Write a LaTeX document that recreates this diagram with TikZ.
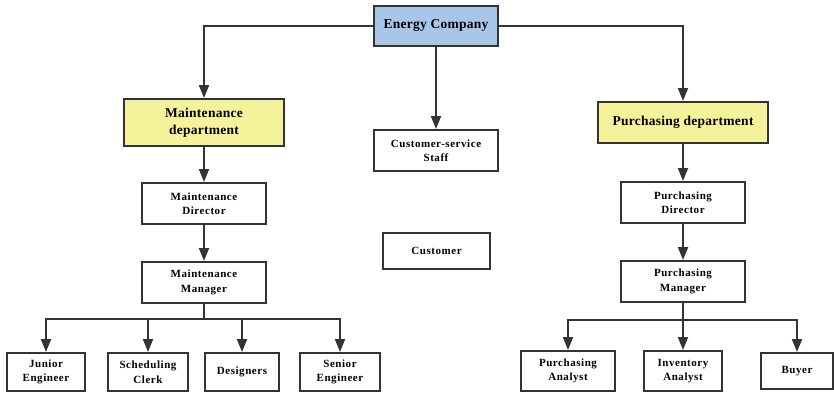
\documentclass[tikz,border=0pt]{standalone}
\usepackage{fontspec}
\setmainfont{Liberation Serif}
\newfontfamily\headfont[LetterSpace=2]{Liberation Serif}
\newfontfamily\staffont[LetterSpace=5]{Liberation Serif}
\usetikzlibrary{arrows.meta}

\definecolor{boxline}{HTML}{333333}
\definecolor{topblue}{HTML}{A9C6E8}
\definecolor{deptyellow}{HTML}{F5F29C}

\tikzset{
  unit/.style={rectangle, draw=boxline, line width=2pt, align=center,
               inner sep=2pt, fill=white,
               font=\staffont\bfseries\fontsize{11}{14.5}\selectfont},
  head/.style={unit, font=\headfont\bfseries\fontsize{13.5}{16.5}\selectfont},
  link/.style={draw=boxline, line width=2pt,
               -{Triangle[length=13pt,width=10pt]}}
}

\begin{document}
\begin{tikzpicture}[x=1pt, y=-1pt]
    \useasboundingbox (0,0) rectangle (834,392);

    % Top of the company

    \node (energy) [head, fill=topblue, minimum width=124pt,
                    minimum height=40pt]
          at (436,26) {Energy Company};
    \node (custstaff) [unit, minimum width=124pt, minimum height=41pt]
          at (436,150.5) {Customer-service\\Staff};
    \node (customer) [unit, minimum width=107pt, minimum height=36pt]
          at (436.5,251) {Customer};
    \draw[link] (energy) -- (custstaff);

    % Maintenance department

    \node (maintdept) [head, fill=deptyellow, minimum width=160pt,
                       minimum height=47pt]
          at (204,122.5) {Maintenance\\department};
    \node (maintdir) [unit, minimum width=124pt, minimum height=41pt]
          at (204,203.5) {Maintenance\\Director};
    \node (maintmgr) [unit, minimum width=124pt, minimum height=41pt]
          at (204,282.5) {Maintenance\\Manager};
    \coordinate (mbranch) at (204,319);

    \node (junior) [unit, minimum width=78pt, minimum height=38pt]
          at (46,372) {Junior\\Engineer};
    \node (clerk) [unit, minimum width=80pt, minimum height=38pt]
          at (148,372) {Scheduling\\Clerk};
    \node (designers) [unit, minimum width=74pt, minimum height=38pt]
          at (242,372) {Designers};
    \node (senior) [unit, minimum width=80pt, minimum height=38pt]
          at (340,372) {Senior\\Engineer};

    \draw[link] (energy.west) -| (maintdept.north);
    \draw[link] (maintdept) -- (maintdir);
    \draw[link] (maintdir) -- (maintmgr);
    \foreach \child in {junior, clerk, designers, senior}
        \draw[link] (maintmgr.south) -- (mbranch) -| (\child.north);

    % Purchasing department

    \node (purchdept) [head, fill=deptyellow, minimum width=170pt,
                       minimum height=41pt]
          at (683,122.5) {Purchasing department};
    \node (purchdir) [unit, minimum width=124pt, minimum height=41pt]
          at (683,202.5) {Purchasing\\Director};
    \node (purchmgr) [unit, minimum width=124pt, minimum height=41pt]
          at (683,281.5) {Purchasing\\Manager};
    \coordinate (pbranch) at (683,320);

    \node (panalyst) [unit, minimum width=94pt, minimum height=40pt]
          at (568,371) {Purchasing\\Analyst};
    \node (ianalyst) [unit, minimum width=78pt, minimum height=40pt]
          at (683,371) {Inventory\\Analyst};
    \node (buyer) [unit, minimum width=72pt, minimum height=36pt]
          at (797,371) {Buyer};

    \draw[link] (energy.east) -| (purchdept.north);
    \draw[link] (purchdept) -- (purchdir);
    \draw[link] (purchdir) -- (purchmgr);
    \foreach \child in {panalyst, ianalyst, buyer}
        \draw[link] (purchmgr.south) -- (pbranch) -| (\child.north);
\end{tikzpicture}
\end{document}
